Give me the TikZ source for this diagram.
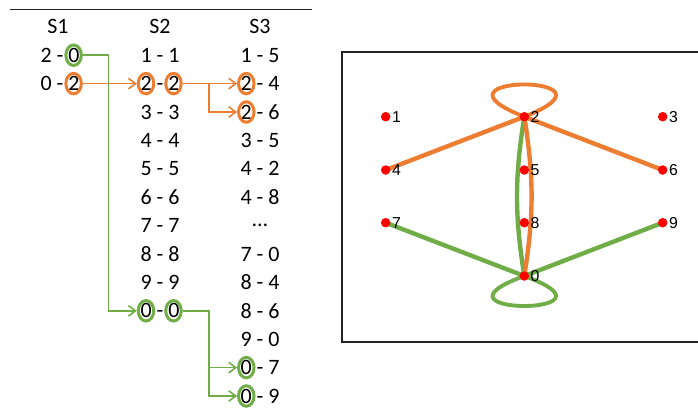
\documentclass[tikz,border=0pt]{standalone}
\usepackage{fontspec}
\setmainfont{Carlito}
\newfontfamily\graphfont{Liberation Sans}
\usetikzlibrary{arrows.meta, positioning, shapes.geometric, backgrounds}
\definecolor{CO}{RGB}{237,125,49}
\definecolor{CG}{RGB}{112,173,71}
\definecolor{DG}{RGB}{35,35,35}

\begin{document}
\begin{tikzpicture}[
  x=0.02cm, y=-0.02cm,
  entry/.style={font=\fontsize{12.5}{14}\selectfont, inner sep=0pt},
  ring/.style={draw=#1, ellipse, line width=1.7pt, minimum width=0.31cm,
               minimum height=0.41cm, inner sep=0pt},
  link/.style={draw=#1, line width=0.9pt, -{Straight Barb[length=4pt, width=6pt]}},
  dot/.style={circle, fill=red, minimum size=0.19cm, inner sep=0pt},
  lbl/.style={font=\graphfont\fontsize{9}{10}\selectfont, inner sep=0.5pt},
  edge/.style={draw=#1, line width=2.5pt},
  loopline/.style={draw=#1, line width=2.2pt}
]
\useasboundingbox (0,0) rectangle (698,407);

% Table rule and column headers
\draw[DG, line width=0.6pt] (10,9.5) -- (312,9.5);
\node[entry] (h1) at (58,26.8)  {S1};
\node[entry] (h2) at (160,26.8) {S2};
\node[entry] (h3) at (260,26.8) {S3};

% Rows
\foreach \t [count=\i] in {2 - 0, 0 - 2}
  \node[entry] (s1r\i) at (60,26.8+28.4*\i) {\t};
\foreach \t [count=\i] in {1 - 1, 2 - 2, 3 - 3, 4 - 4, 5 - 5, 6 - 6, 7 - 7, 8 - 8, 9 - 9, 0 - 0}
  \node[entry] (s2r\i) at (160,26.8+28.4*\i) {\t};
\foreach \t [count=\i] in {1 - 5, 2 - 4, 2 - 6, 3 - 5, 4 - 2, 4 - 8, …, 7 - 0, 8 - 4, 8 - 6, 9 - 0, 0 - 7, 0 - 9}
  \node[entry] (s3r\i) at (260,26.8+28.4*\i) {\t};

% Marked digits
\node[ring=CG] (g1)  at (73.6,55.2)  {};
\node[ring=CO] (o1)  at (73.6,83.6)  {};
\node[ring=CO] (o2a) at (146,83.6)   {};
\node[ring=CO] (o2b) at (173.5,83.6) {};
\node[ring=CG] (g2a) at (146,310.8)  {};
\node[ring=CG] (g2b) at (173.5,310.8){};
\node[ring=CO] (o3a) at (246.3,83.6) {};
\node[ring=CO] (o3b) at (246.3,112)  {};
\node[ring=CG] (g3a) at (246.3,367.6){};
\node[ring=CG] (g3b) at (246.3,396)  {};

% Joins
\coordinate (k1) at (108.5,0);
\coordinate (k2) at (209,0);
\draw[link=CO] (o1.east) -- (o2a.west);
\draw[link=CO] (o2b.east) -- (o3a.west);
\draw[link=CO] (o2b.east -| k2) |- (o3b.west);
\draw[link=CG] (g1.east) -- (g1.east -| k1) |- (g2a.west);
\draw[link=CG] (g2b.east) -- (g2b.east -| k2) |- (g3a.west);
\draw[link=CG] (g2b.east -| k2) |- (g3b.west);

% Graph panel
\draw[DG, line width=0.6pt] (342,52) rectangle (699,342);
\node[dot, label={[lbl]right:1}] (v1) at (385.7,116.7) {};
\node[dot, label={[lbl]right:2}] (v2) at (524.3,116.7) {};
\node[dot, label={[lbl]right:3}] (v3) at (662.7,116.7) {};
\node[dot, label={[lbl]right:4}] (v4) at (385.7,170)   {};
\node[dot, label={[lbl]right:5}] (v5) at (524.3,170)   {};
\node[dot, label={[lbl]right:6}] (v6) at (662.7,170)   {};
\node[dot, label={[lbl]right:7}] (v7) at (385.7,222.7) {};
\node[dot, label={[lbl]right:8}] (v8) at (524.3,222.7) {};
\node[dot, label={[lbl]right:9}] (v9) at (662.7,222.7) {};
\node[dot, label={[lbl]right:0}] (v0) at (524.3,276)   {};

\begin{scope}[on background layer]
  \draw[edge=CO] (v2.center) -- (v4.center);
  \draw[edge=CO] (v2.center) -- (v6.center);
  \draw[edge=CG] (v7.center) -- (v0.center);
  \draw[edge=CG] (v9.center) -- (v0.center);
  \draw[edge=CG] (v2.center) to[bend right=9] (v0.center);
  \draw[edge=CO] (v2.center) to[bend left=9] (v0.center);
  \draw[loopline=CO] (v2.center) .. controls +(-110,-43) and +(110,-43) .. (v2.center);
  \draw[loopline=CG] (v0.center) .. controls +(-110,40) and +(110,40) .. (v0.center);
\end{scope}
\end{tikzpicture}
\end{document}
